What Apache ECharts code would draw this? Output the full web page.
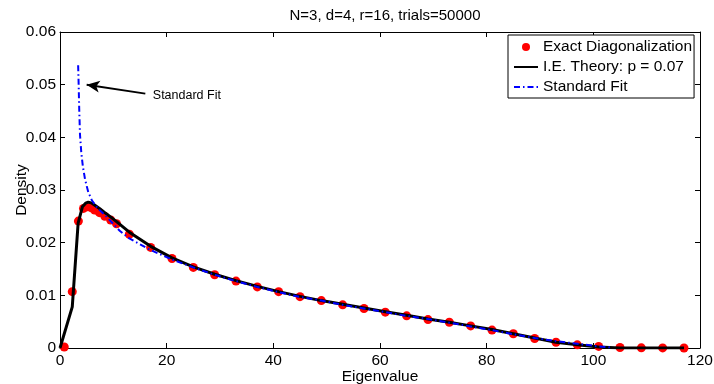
<!DOCTYPE html>
<html>
<head>
<meta charset="utf-8">
<script src="https://cdn.jsdelivr.net/npm/echarts@6/dist/echarts.min.js"></script>
<style>html,body{margin:0;padding:0;background:#fff}#c{width:714px;height:384px}</style>
</head>
<body>
<div id="c"></div>
<script>
const titleText = 'N=3, d=4, r=16, trials=50000';
const xTicks = [0, 20, 40, 60, 80, 100, 120];
const yTicks = [0, 0.01, 0.02, 0.03, 0.04, 0.05, 0.06];

const edX = [0.8, 2.3, 3.45, 4.4, 5.2, 5.9, 6.5, 7.4, 8.4, 9.5, 10.6, 13, 17, 21, 25, 29, 33, 37, 41, 45, 49, 53, 57, 61, 65, 69, 73, 77, 81, 85, 89, 93, 97, 101, 105, 109, 113, 117];
const edY = [0.0002, 0.0107, 0.0241, 0.0265, 0.0268, 0.0266, 0.0262, 0.0257, 0.0250, 0.0243, 0.0236, 0.0216, 0.0191, 0.0170, 0.0153, 0.0139, 0.0127, 0.0116, 0.0107, 0.00975, 0.0090, 0.0082, 0.0075, 0.0068, 0.0061, 0.0054, 0.0049, 0.0042, 0.0034, 0.0027, 0.0018, 0.0011, 0.0006, 0.0003, 0.0001, 0.00003, 0.00002, 0.0];

const ieX = [0, 2.3, 3.4, 4.2, 4.8, 5.3, 6.0, 7.4, 8.4, 9.6, 10.6, 13, 17, 21, 25, 29, 33, 37, 41, 45, 49, 53, 57, 61, 65, 69, 73, 77, 81, 85, 89, 93, 97, 101, 105, 109, 113, 117];
const ieY = [0, 0.0078, 0.0237, 0.0268, 0.0275, 0.0277, 0.0275, 0.0265, 0.0257, 0.0248, 0.0240, 0.0220, 0.0193, 0.0171, 0.0154, 0.0140, 0.0128, 0.0117, 0.0107, 0.0098, 0.0090, 0.0083, 0.0076, 0.0069, 0.0062, 0.0055, 0.0049, 0.0042, 0.0035, 0.0027, 0.0019, 0.0011, 0.0006, 0.0002, 0.0, 0.0, 0.0, 0.0];

const sfX = [3.4, 3.5, 3.6, 3.75, 4.0, 4.3, 4.7, 5.3, 6.0, 7.0, 8.75, 11.25, 13, 17, 21, 25, 29, 33, 37, 41, 45, 49, 53, 57, 61, 65, 69, 73, 77, 81, 85, 89, 93, 97, 101, 103.5];
const sfY = [0.0537, 0.0500, 0.0455, 0.0405, 0.0370, 0.0344, 0.0320, 0.0296, 0.0280, 0.0266, 0.0249, 0.0222, 0.0208, 0.0186, 0.0168, 0.0153, 0.0139, 0.0127, 0.0116, 0.0106, 0.0097, 0.0090, 0.0082, 0.0075, 0.0068, 0.0061, 0.0055, 0.0048, 0.0041, 0.0034, 0.0026, 0.0019, 0.0013, 0.0008, 0.0003, 0.0001];

const arrowTail = [16.0, 0.0483];
const arrowHead = [5.0, 0.0500];
const annotText = 'Standard Fit';
const annotPos = [17.4, 0.0480];

const zip = (a, b) => a.map((v, i) => [v, b[i]]);
const FONT = 'Liberation Sans, Arial, Helvetica, sans-serif';
const hiddenSymbol = {color: 'rgba(0,0,0,0)', borderWidth: 0, opacity: 0};

const chart = echarts.init(document.getElementById('c'), null, {renderer: 'canvas'});
const axisCommon = {
  type: 'value',
  axisLine: {show: true, onZero: false, lineStyle: {color: '#000', width: 1}},
  axisTick: {show: true, inside: true, length: 5, lineStyle: {color: '#000', width: 1}},
  splitLine: {show: false}
};
chart.setOption({
  animation: false,
  backgroundColor: '#fff',
  textStyle: {fontFamily: FONT},
  title: {
    text: titleText, left: 380, top: 3, textAlign: 'center',
    textStyle: {fontFamily: FONT, fontSize: 15, fontWeight: 'normal', color: '#000'}
  },
  grid: {left: 60, right: 14, top: 32, bottom: 36, containLabel: false, outerBoundsMode: 'none'},
  legend: {
    orient: 'vertical', left: 508, top: 35,
    padding: [4, 2, 3, 5], itemGap: 4, itemWidth: 24, itemHeight: 8,
    borderColor: '#000', borderWidth: 1, backgroundColor: '#fff',
    textStyle: {fontFamily: FONT, fontSize: 15.5, color: '#000', lineHeight: 15},
    data: [
      {name: 'Exact Diagonalization', icon: 'circle'},
      {name: 'I.E. Theory: p = 0.07', itemStyle: hiddenSymbol},
      {name: 'Standard Fit', itemStyle: hiddenSymbol}
    ]
  },
  xAxis: [
    Object.assign({}, axisCommon, {
      min: xTicks[0], max: xTicks[xTicks.length - 1], interval: xTicks[1] - xTicks[0],
      position: 'bottom',
      name: 'Eigenvalue', nameLocation: 'middle', nameGap: 21, nameMoveOverlap: false,
      nameTextStyle: {fontFamily: FONT, fontSize: 15.5, color: '#000'},
      axisLabel: {color: '#000', fontSize: 15.5, fontFamily: FONT, margin: 5}
    }),
    Object.assign({}, axisCommon, {
      min: xTicks[0], max: xTicks[xTicks.length - 1], interval: xTicks[1] - xTicks[0],
      position: 'top', axisLabel: {show: false}
    })
  ],
  yAxis: [
    Object.assign({}, axisCommon, {
      min: yTicks[0], max: yTicks[yTicks.length - 1], interval: yTicks[1] - yTicks[0],
      position: 'left',
      name: 'Density', nameLocation: 'middle', nameGap: 30, nameMoveOverlap: false,
      nameTextStyle: {fontFamily: FONT, fontSize: 15.5, color: '#000'},
      axisLabel: {color: '#000', fontSize: 15.5, fontFamily: FONT, margin: 4,
        formatter: v => v === 0 ? '0' : v.toFixed(2)}
    }),
    Object.assign({}, axisCommon, {
      min: yTicks[0], max: yTicks[yTicks.length - 1], interval: yTicks[1] - yTicks[0],
      position: 'right', axisLabel: {show: false}
    })
  ],
  series: [
    {
      name: 'Exact Diagonalization', type: 'scatter', data: zip(edX, edY),
      symbol: 'circle', symbolSize: 9, itemStyle: {color: '#ff0000', opacity: 1}, z: 2
    },
    {
      name: 'I.E. Theory: p = 0.07', type: 'line', data: zip(ieX, ieY),
      symbol: 'none', lineStyle: {color: '#000', width: 3}, itemStyle: {color: '#000'}, z: 3
    },
    {
      name: 'Standard Fit', type: 'line', data: zip(sfX, sfY),
      symbol: 'none', lineStyle: {color: '#0000ff', width: 2, type: [6, 3, 1.5, 3]}, itemStyle: {color: '#0000ff'}, z: 4,
      markLine: {
        silent: true, animation: false,
        symbol: ['none', 'arrow'], symbolSize: [9, 13],
        lineStyle: {color: '#000', width: 2, type: 'solid'},
        label: {show: false},
        data: [[{coord: arrowTail}, {coord: arrowHead}]]
      },
      markPoint: {
        silent: true, symbol: 'circle', symbolSize: 0,
        label: {show: true, position: 'right', distance: 0, formatter: annotText,
          color: '#000', fontSize: 12.5, fontFamily: FONT},
        data: [{coord: annotPos}]
      }
    }
  ]
});
</script>
</body>
</html>
